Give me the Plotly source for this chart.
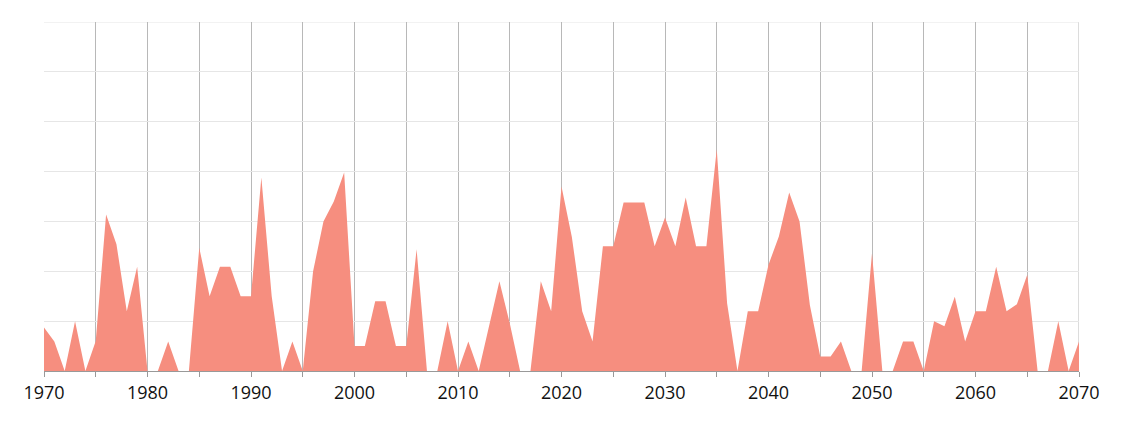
import plotly.graph_objects as go

years = list(range(1970, 2071))
values = [
    8.7, 5.9, 0, 10, 0, 6, 31.4, 25.4, 12, 20.9,      # 1970-1979
    0, 0, 5.9, 0, 0, 24.7, 15, 20.9, 20.9, 15,         # 1980-1989
    15, 38.8, 15, 0, 5.9, 0, 20, 30, 34, 39.8,         # 1990-1999
    5, 5, 14, 14, 5, 5, 24.4, 0, 0, 10,                # 2000-2009
    0, 5.9, 0, 9, 18, 9.6, 0, 0, 18, 12,               # 2010-2019
    37, 26.9, 12, 5.9, 25, 25, 33.8, 33.8, 33.8, 25,   # 2020-2029
    30.8, 25, 34.8, 25, 25, 44.5, 13.6, 0, 12, 12,     # 2030-2039
    21.3, 27, 35.8, 30, 13.2, 2.9, 2.9, 5.9, 0, 0,     # 2040-2049
    23.6, 0, 0, 5.9, 5.9, 0, 10, 9, 14.9, 5.9,         # 2050-2059
    12, 12, 20.9, 12, 13.4, 19.3, 0, 0, 10, 0,         # 2060-2069
    5.9,                                               # 2070
]
tick_years = list(range(1970, 2071, 10))
tick_labels = [str(y) for y in tick_years]

fig = go.Figure()
fig.add_trace(go.Scatter(
    x=years, y=values, mode="lines", fill="tozeroy",
    line=dict(width=0, color="#F68E7F"), fillcolor="#F68E7F",
    hoverinfo="x+y", showlegend=False,
))

fig.update_layout(
    width=1124, height=423,
    margin=dict(l=44, r=45, t=22, b=52),
    paper_bgcolor="white", plot_bgcolor="white",
    font=dict(family="Open Sans, Segoe UI, sans-serif", size=18, color="#111"),
    xaxis=dict(
        range=[1970, 2070], tickmode="array", tickvals=tick_years, ticktext=tick_labels,
        showgrid=True, gridcolor="#B8B8B8", gridwidth=1,
        ticks="outside", ticklen=5, tickcolor="#999", tickwidth=1,
        minor=dict(dtick=5, tick0=1970, showgrid=True, gridcolor="#B8B8B8", gridwidth=1,
                   ticks="outside", ticklen=5, tickcolor="#999"),
        showline=True, linecolor="#999", linewidth=1,
        zeroline=False, mirror=False,
        tickfont=dict(size=18, color="#111"),
    ),
    yaxis=dict(
        range=[0, 70], dtick=10, showticklabels=False,
        showgrid=True, gridcolor="#E6E6E6", gridwidth=1,
        zeroline=False, showline=False,
    ),
)
fig.add_shape(type="line", xref="x", yref="paper", x0=2070, x1=2070, y0=0, y1=1,
              line=dict(color="#B8B8B8", width=1), layer="below")
fig.add_shape(type="line", xref="paper", yref="y", x0=0, x1=1, y0=70, y1=70,
              line=dict(color="#E6E6E6", width=1), layer="below")

fig.write_html("out.html", config={"displayModeBar": False},
               post_script="document.body.style.margin='0';")
